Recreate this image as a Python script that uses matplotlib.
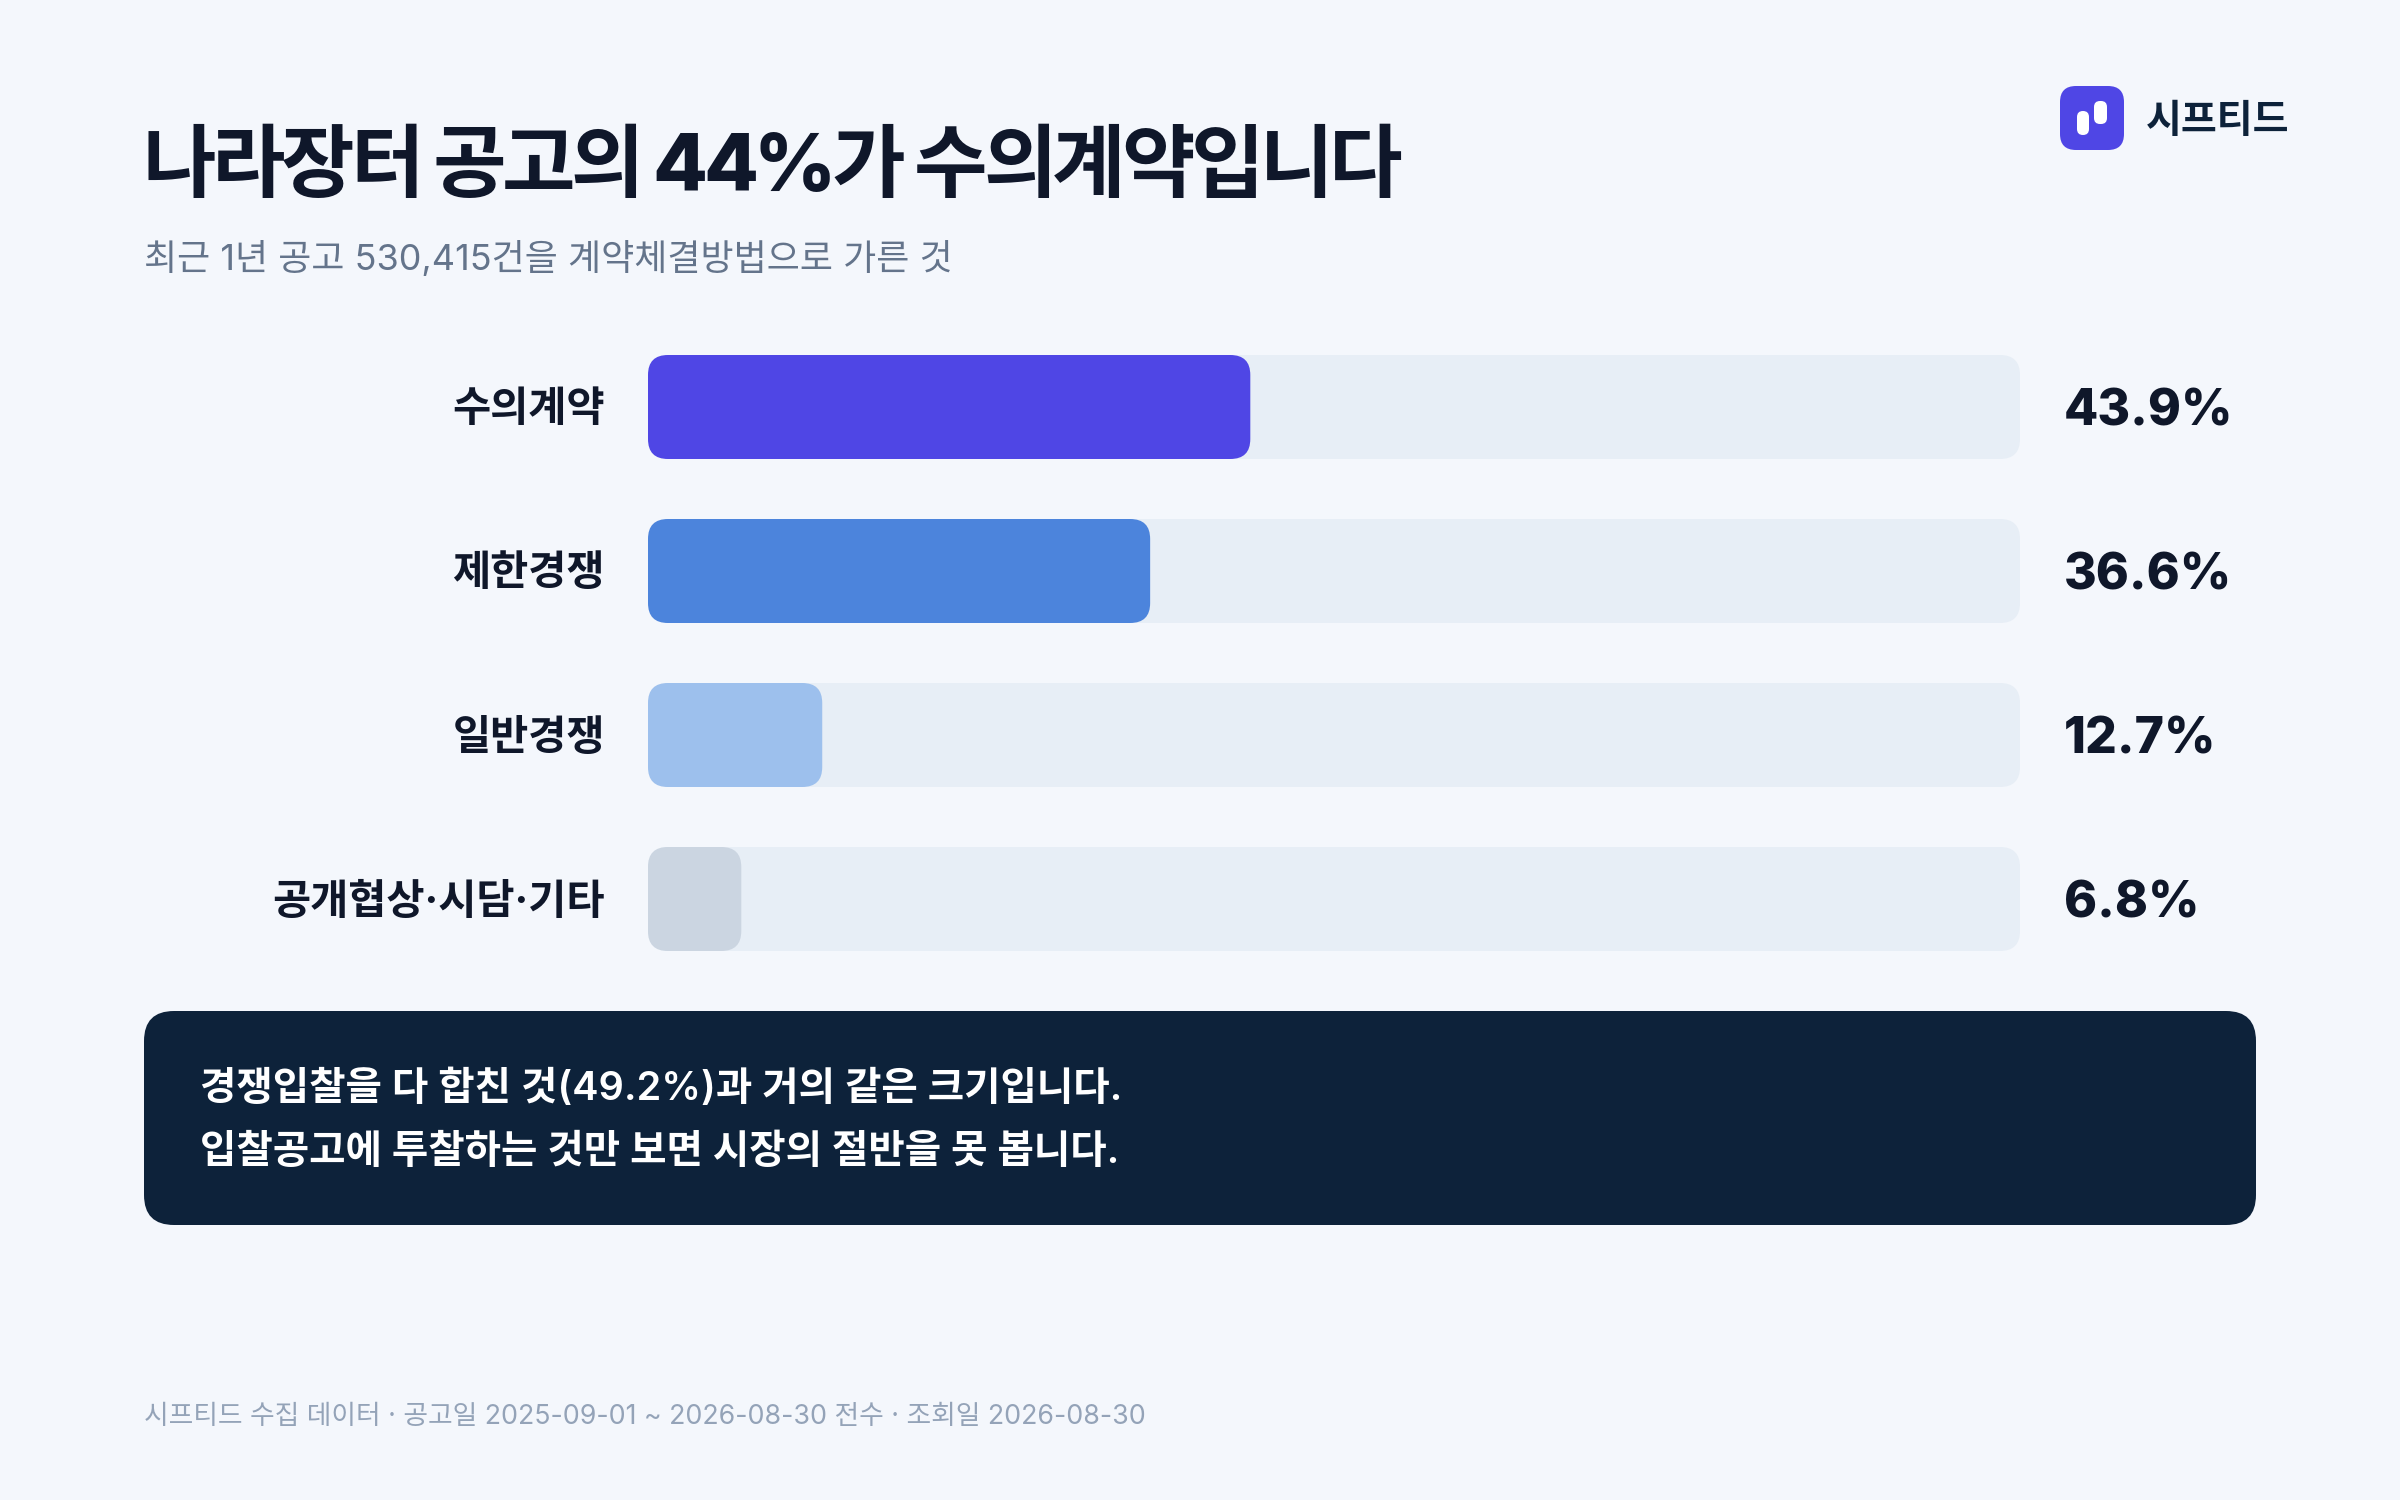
import matplotlib
matplotlib.use("Agg")
import matplotlib.pyplot as plt
from matplotlib.patches import FancyBboxPatch
from matplotlib.text import Text

plt.rcParams['font.family'] = ['Inter', 'Noto Sans CJK KR', 'DejaVu Sans']

categories = ['수의계약', '제한경쟁', '일반경쟁', '공개협상·시담·기타']
values = [43.9, 36.6, 12.7, 6.8]
value_labels = ['43.9%', '36.6%', '12.7%', '6.8%']
bar_colors = ['#4F46E5', '#4C84DC', '#9DC0ED', '#CBD5E1']

title = '나라장터 공고의 44%가 수의계약입니다'
subtitle = '최근 1년 공고 530,415건을 계약체결방법으로 가른 것'
note_lines = ['경쟁입찰을 다 합친 것(49.2%)과 거의 같은 크기입니다.',
              '입찰공고에 투찰하는 것만 보면 시장의 절반을 못 봅니다.']
footer = '시프티드 수집 데이터 · 공고일 2025-09-01 ~ 2026-08-30 전수 · 조회일 2026-08-30'
brand = '시프티드'

BG = '#F4F7FC'
INK = '#0F172A'
NAVY = '#0D223A'
W, H = 2400, 1500

def px(size):
    return size * 72 / 100

# matplotlib has no letter spacing, so this draws the string glyph by glyph
class TrackedText(Text):
    def __init__(self, *args, tracking=0, **kwargs):
        super().__init__(*args, **kwargs)
        self.tracking = tracking

    def draw(self, renderer):
        s = self.get_text()
        prop = self.get_fontproperties()
        x0, y0 = self.get_transform().transform(self.get_position())
        y0 = renderer.height - y0
        gc = renderer.new_gc()
        gc.set_foreground(self.get_color())
        for i, ch in enumerate(s):
            w = renderer.get_text_width_height_descent(s[:i], prop, False)[0] if i else 0
            renderer.draw_text(gc, x0 + w + i * self.tracking, y0, ch, prop, 0)
        gc.restore()

fig = plt.figure(figsize=(24, 15), dpi=100, facecolor=BG)

page = fig.add_axes([0, 0, 1, 1])
page.set_xlim(0, W)
page.set_ylim(H, 0)
page.axis('off')

page.add_artist(TrackedText(143, 191, title, tracking=-4.5, fontsize=px(80), fontweight=800,
                            color=INK, va='baseline'))
page.text(144, 259, subtitle, fontsize=px(36), color='#64748B', va='center')
page.text(144, 1417, footer, fontsize=px(26.8), color='#94A3B8', va='center')

# logo
page.add_patch(FancyBboxPatch((2060, 86), 64, 64, boxstyle='round,pad=0,rounding_size=16',
                              fc='#4F46E5', ec='none'))
page.add_patch(FancyBboxPatch((2077, 111), 12, 24, boxstyle='round,pad=0,rounding_size=6',
                              fc='white', ec='none'))
page.add_patch(FancyBboxPatch((2094, 101), 13, 23, boxstyle='round,pad=0,rounding_size=6',
                              fc='white', ec='none'))
page.text(2146, 121, brand, fontsize=px(39), fontweight='bold', color=NAVY, va='center')

# note box
page.add_patch(FancyBboxPatch((144, 1011), 2112, 214, boxstyle='round,pad=0,rounding_size=30',
                              fc=NAVY, ec='none'))
page.text(200, 1089, note_lines[0], fontsize=px(39.6), fontweight=600, color='white', va='center')
page.text(200, 1152, note_lines[1], fontsize=px(39.6), fontweight=600, color='white', va='center')

# bars, x in percent
left, right, top, bottom = 648, 2020, 325, 981
ax = fig.add_axes([left / W, 1 - bottom / H, (right - left) / W, (bottom - top) / H])
ax.set_xlim(0, 100)
ax.set_ylim(len(categories) - 0.5, -0.5)
ax.axis('off')
ax.patch.set_alpha(0)

bar_h = 104 / 164
x_per_px = 100 / (right - left)
aspect = (1 / 164) / x_per_px
radius = 20 * x_per_px
for i, (cat, val, lab, col) in enumerate(zip(categories, values, value_labels, bar_colors)):
    ax.add_patch(FancyBboxPatch((0, i - bar_h / 2), 100, bar_h,
                                boxstyle=f'round,pad=0,rounding_size={radius}',
                                mutation_aspect=aspect, fc='#E7EEF6', ec='none'))
    ax.add_patch(FancyBboxPatch((0, i - bar_h / 2), val, bar_h,
                                boxstyle=f'round,pad=0,rounding_size={radius}',
                                mutation_aspect=aspect, fc=col, ec='none'))
    ax.annotate(cat, (0, i), xytext=(-43 * 0.72, -3 * 0.72), textcoords='offset points', ha='right',
                va='center', fontsize=px(41.5), fontweight='bold', color=INK, annotation_clip=False)
    ax.annotate(lab, (100, i), xytext=(44 * 0.72, -5 * 0.72), textcoords='offset points', ha='left',
                va='center', fontsize=px(50), fontweight=800, color=INK, annotation_clip=False)

fig.savefig('out.png', dpi=100, facecolor=BG)
